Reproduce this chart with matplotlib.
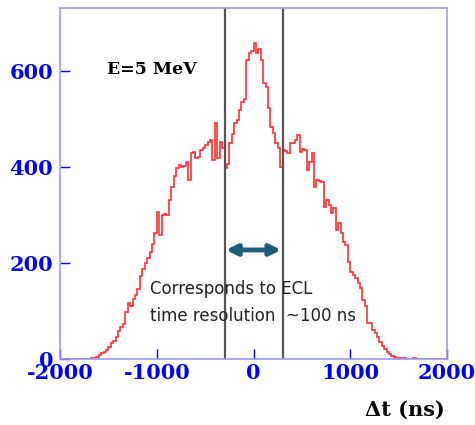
import numpy as np
import matplotlib
matplotlib.use("Agg")
import matplotlib.pyplot as plt

plt.rcParams["axes.unicode_minus"] = False

# counts per 25 ns bin, from -2000 to 2000 ns
bin_width = 25
counts = [
    0, 0, 0, 0, 1, 0, 0, 1,
    0, 0, 1, 1, 1, 2, 3, 4,
    8, 12, 14, 20, 26, 33, 38, 45,
    58, 66, 74, 98, 116, 111, 126, 134,
    146, 172, 188, 200, 210, 222, 240, 262,
    306, 258, 300, 302, 300, 330, 358, 380,
    398, 404, 400, 402, 410, 373, 428, 431,
    418, 420, 435, 440, 446, 452, 456, 415,
    492, 418, 452, 440, 398, 406, 450, 468,
    490, 498, 519, 535, 540, 623, 637, 640,
    658, 637, 644, 623, 575, 565, 523, 483,
    470, 450, 440, 400, 435, 432, 429, 450,
    450, 455, 467, 431, 436, 435, 394, 410,
    429, 358, 373, 370, 369, 317, 331, 320,
    304, 315, 269, 283, 262, 244, 237, 202,
    181, 175, 168, 158, 148, 123, 110, 75,
    75, 60, 54, 45, 35, 28, 22, 15,
    10, 6, 4, 3, 2, 3, 2, 1,
    1, 1, 2, 1, 0, 1, 0, 1,
    0, 1, 0, 0, 1, 0, 0, 0,
]
window = [-300, 300]
xticks = [-2000, -1000, 0, 1000, 2000]
yticks = [0, 200, 400, 600]

edges = -2000 + bin_width * np.arange(len(counts) + 1)

fig = plt.figure(figsize=(4.75, 4.25), dpi=100)
ax = fig.add_axes([0.1263, 0.155, 0.815, 0.826])

ax.stairs(counts, edges, color="#ff3030", lw=1.2)

for xv in window:
    ax.axvline(xv, color="#555555", lw=1.6)

ax.annotate("", xy=(window[0] + 15, 227), xytext=(window[1] - 15, 227),
            arrowprops=dict(arrowstyle="<|-|>", color="#1d5f7a", lw=3.5,
                            mutation_scale=16, shrinkA=0, shrinkB=0))

ax.text(-1075, 145, "Corresponds to ECL", fontsize=12, color="#222222",
        va="center", ha="left")
ax.text(-1075, 90, "time resolution  ~100 ns", fontsize=12, color="#222222",
        va="center", ha="left")

ax.text(-1054, 602, "E=5 MeV", fontsize=12.5, fontweight="bold",
        family="DejaVu Serif", ha="center", va="center")

ax.set_xlim(-2000, 2000)
ax.set_ylim(0, 730)
ax.set_xticks(xticks)
ax.set_yticks(yticks)
for sp in ax.spines.values():
    sp.set_color("#9a9aff")
    sp.set_linewidth(1.2)
ax.tick_params(direction="in", colors="#0000ff", length=7, width=1, pad=3)
ax.tick_params(axis="y", pad=5)
for lab in ax.get_xticklabels() + ax.get_yticklabels():
    lab.set_family("DejaVu Serif")
    lab.set_fontweight("bold")
    lab.set_fontsize(15)

fig.text(0.853, 0.035, "Δt (ns)", fontsize=15, fontweight="bold",
         family="DejaVu Serif", ha="center", va="center")

fig.savefig("out.png", dpi=100)
